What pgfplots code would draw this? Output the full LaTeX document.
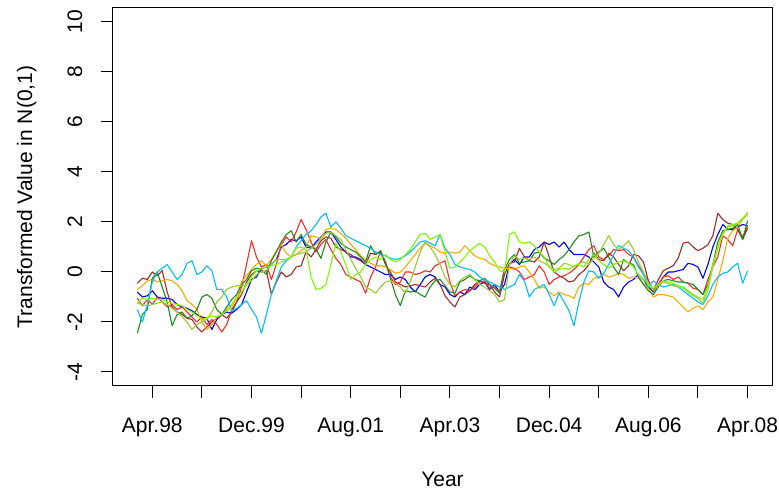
\documentclass[border=0pt]{standalone}
\usepackage{fontspec}
\setmainfont{Liberation Sans}
\usepackage{pgfplots}
\pgfplotsset{compat=1.18}
\definecolor{cblue}{HTML}{0000FF}
\definecolor{cred}{HTML}{FF2A2A}
\definecolor{cbrown}{HTML}{A52A2A}
\definecolor{corange}{HTML}{FFAA00}
\definecolor{cdkgreen}{HTML}{1E8B1E}
\definecolor{csky}{HTML}{00BFFF}
\definecolor{cyg}{HTML}{9ACD32}
\definecolor{cchart}{HTML}{7CFC00}
\begin{document}
\begin{tikzpicture}
\begin{axis}[
  scale only axis, width=659pt, height=378pt,
  xmin=-4.92, xmax=127.92, ymin=-4.56, ymax=10.56,
  axis line style={line width=1pt},
  every tick/.style={line width=1pt, black},
  major tick length=12pt, tick align=outside,
  xtick pos=bottom, ytick pos=left,
  xtick={3,13,23,33,43,53,63,73,83,93,103,113,123},
  xticklabels={Apr.98,,Dec.99,,Aug.01,,Apr.03,,Dec.04,,Aug.06,,Apr.08},
  ytick={-4,-2,0,2,4,6,8,10},
  yticklabels={-4,-2,0,2,4,6,8,10},
  every tick label/.append style={font=\fontsize{21}{25}\selectfont, inner sep=0pt},
  xticklabel style={anchor=base, yshift=-34pt},
  yticklabel style={rotate=90, anchor=base, yshift=19pt},
  every axis x label/.style={at={(axis description cs:0.5,-0.2672)}, anchor=base, inner sep=0pt, font=\fontsize{21}{25}\selectfont},
  every axis y label/.style={at={(axis description cs:-0.1229,0.5)}, rotate=90, anchor=base, inner sep=0pt, font=\fontsize{21}{25}\selectfont},
  xlabel={Year},
  ylabel={Transformed Value in N(0,1)},
  every axis plot/.append style={line width=1.1pt, line join=round},
]
\addplot[cblue] coordinates {(0,-0.8) (1,-1.0) (2,-0.95) (3,-0.75) (4,-1.0) (5,-1.05) (6,-1.05) (7,-1.1) (8,-1.3) (9,-1.4) (10,-1.45) (11,-1.55) (12,-1.7) (13,-1.8) (14,-1.85) (15,-2.3) (16,-1.9) (17,-1.7) (18,-1.6) (19,-1.65) (20,-1.5) (21,-1.3) (22,-0.8) (23,-0.3) (24,-0.2) (25,0.15) (26,0.2) (27,0.3) (28,0.5) (29,1.0) (30,1.1) (31,1.3) (32,1.25) (33,1.4) (34,1.0) (35,0.95) (36,1.2) (37,1.4) (38,1.6) (39,1.6) (40,1.3) (41,1.0) (42,0.8) (43,0.6) (44,0.6) (45,0.5) (46,0.3) (47,0.2) (48,0.1) (49,0.0) (50,-0.1) (51,-0.1) (52,-0.3) (53,-0.2) (54,-0.3) (55,-0.6) (56,-0.8) (57,-0.5) (58,-0.2) (59,-0.1) (60,-0.2) (61,-0.5) (62,-0.6) (63,-0.9) (64,-1.0) (65,-0.8) (66,-0.9) (67,-0.6) (68,-0.7) (69,-0.5) (70,-0.4) (71,-0.7) (72,-0.5) (73,-0.8) (74,-0.5) (75,0.3) (76,0.5) (77,0.3) (78,0.6) (79,0.6) (80,0.9) (81,1.0) (82,1.2) (83,1.1) (84,1.2) (85,1.0) (86,1.2) (87,0.9) (88,0.7) (89,0.7) (90,0.7) (91,0.6) (92,0.4) (93,0.2) (94,-0.4) (95,-0.6) (96,-0.7) (97,-1.0) (98,-0.6) (99,-0.4) (100,-0.3) (101,-0.1) (102,-0.3) (103,-0.6) (104,-0.8) (105,-0.5) (106,-0.2) (107,0.0) (108,0.0) (109,0.05) (110,0.1) (111,0.35) (112,0.3) (113,0.2) (114,-0.25) (115,0.3) (116,1.0) (117,1.5) (118,1.9) (119,1.7) (120,1.7) (121,1.8) (122,1.9) (123,1.85)};
\addplot[cred] coordinates {(0,-1.05) (1,-1.35) (2,-1.1) (3,-1.3) (4,-1.0) (5,-1.2) (6,-1.4) (7,-1.3) (8,-1.5) (9,-1.4) (10,-1.6) (11,-1.8) (12,-2.0) (13,-1.8) (14,-2.1) (15,-1.9) (16,-2.1) (17,-2.4) (18,-2.1) (19,-1.5) (20,-1.2) (21,-0.6) (22,0.3) (23,1.25) (24,0.6) (25,0.2) (26,0.3) (27,-0.3) (28,0.3) (29,1.1) (30,1.4) (31,1.2) (32,1.6) (33,2.1) (34,1.7) (35,1.2) (36,0.8) (37,1.1) (38,1.3) (39,0.9) (40,0.55) (41,0.3) (42,-0.1) (43,-0.2) (44,-0.3) (45,-0.4) (46,-0.85) (47,-0.2) (48,0.2) (49,0.85) (50,0.4) (51,-0.2) (52,-0.5) (53,-0.4) (54,0.0) (55,0.0) (56,-0.1) (57,-0.05) (58,0.05) (59,0.0) (60,0.25) (61,0.35) (62,0.45) (63,-0.4) (64,-0.95) (65,-0.8) (66,-0.7) (67,-0.75) (68,-0.6) (69,-0.4) (70,-0.35) (71,-0.65) (72,-0.6) (73,-0.8) (74,0.15) (75,0.2) (76,0.15) (77,0.0) (78,-0.3) (79,-0.2) (80,-0.1) (81,0.25) (82,0.0) (83,-0.5) (84,-0.3) (85,-0.2) (86,-0.15) (87,-0.05) (88,0.1) (89,0.3) (90,0.6) (91,0.9) (92,1.05) (93,0.6) (94,0.5) (95,0.65) (96,0.9) (97,0.85) (98,0.9) (99,0.7) (100,0.6) (101,0.25) (102,-0.05) (103,-0.35) (104,-0.75) (105,-0.5) (106,-0.2) (107,-0.15) (108,-0.3) (109,-0.2) (110,-0.4) (111,-0.45) (112,-0.65) (113,-0.7) (114,-0.9) (115,-0.3) (116,0.2) (117,0.6) (118,1.45) (119,1.3) (120,1.05) (121,1.7) (122,1.4) (123,1.85)};
\addplot[cbrown] coordinates {(0,-0.45) (1,-0.25) (2,-0.3) (3,0.0) (4,-0.15) (5,0.05) (6,-0.8) (7,-1.4) (8,-1.6) (9,-1.7) (10,-1.85) (11,-1.9) (12,-2.2) (13,-2.4) (14,-2.2) (15,-2.0) (16,-1.85) (17,-1.7) (18,-1.85) (19,-1.6) (20,-1.2) (21,-0.9) (22,-0.4) (23,-0.1) (24,0.05) (25,0.0) (26,0.05) (27,-0.9) (28,-0.4) (29,0.0) (30,-0.2) (31,-0.1) (32,0.2) (33,0.25) (34,0.8) (35,0.6) (36,0.9) (37,1.25) (38,1.4) (39,1.35) (40,1.0) (41,0.9) (42,0.8) (43,0.7) (44,0.55) (45,0.45) (46,0.3) (47,0.75) (48,0.7) (49,0.8) (50,0.3) (51,0.0) (52,-0.4) (53,-0.5) (54,-0.6) (55,-0.55) (56,-0.5) (57,-0.55) (58,-0.6) (59,-0.4) (60,-0.25) (61,-0.5) (62,-0.95) (63,-1.2) (64,-1.4) (65,-1.0) (66,-0.9) (67,-0.75) (68,-0.5) (69,-0.35) (70,-0.45) (71,-0.5) (72,-0.8) (73,-1.0) (74,-0.1) (75,0.35) (76,0.4) (77,0.95) (78,0.6) (79,0.45) (80,0.4) (81,0.6) (82,1.2) (83,0.6) (84,0.0) (85,-0.15) (86,-0.25) (87,-0.4) (88,-0.35) (89,-0.1) (90,0.05) (91,0.3) (92,0.75) (93,0.5) (94,0.45) (95,0.75) (96,0.6) (97,0.3) (98,0.05) (99,0.25) (100,0.7) (101,0.65) (102,0.4) (103,-0.35) (104,-0.75) (105,-0.3) (106,0.05) (107,0.15) (108,0.25) (109,0.55) (110,1.15) (111,1.2) (112,1.0) (113,0.85) (114,0.95) (115,1.1) (116,1.45) (117,2.35) (118,2.1) (119,1.95) (120,1.9) (121,1.7) (122,1.3) (123,1.75)};
\addplot[corange] coordinates {(0,-0.7) (1,-0.55) (2,-0.35) (3,-0.3) (4,-0.4) (5,-0.35) (6,-0.3) (7,-0.35) (8,-0.5) (9,-0.75) (10,-1.15) (11,-1.3) (12,-1.5) (13,-2.0) (14,-2.3) (15,-2.1) (16,-1.8) (17,-1.7) (18,-1.5) (19,-1.3) (20,-1.0) (21,-0.4) (22,-0.15) (23,0.1) (24,0.3) (25,0.45) (26,0.25) (27,0.5) (28,0.85) (29,1.1) (30,0.75) (31,0.6) (32,0.7) (33,0.85) (34,1.0) (35,1.45) (36,1.4) (37,1.35) (38,1.7) (39,1.75) (40,1.7) (41,1.55) (42,1.35) (43,1.1) (44,0.9) (45,0.65) (46,0.5) (47,0.35) (48,0.25) (49,0.25) (50,0.2) (51,0.1) (52,-0.05) (53,0.0) (54,0.2) (55,0.45) (56,0.7) (57,0.95) (58,1.15) (59,1.05) (60,0.95) (61,0.8) (62,0.75) (63,0.8) (64,0.75) (65,0.8) (66,1.05) (67,0.85) (68,0.65) (69,0.55) (70,0.5) (71,0.35) (72,0.25) (73,0.2) (74,0.15) (75,0.15) (76,0.1) (77,0.2) (78,0.25) (79,0.0) (80,-0.3) (81,-0.65) (82,-0.6) (83,-0.8) (84,-0.95) (85,-0.8) (86,-0.9) (87,-0.95) (88,-1.05) (89,-0.6) (90,-0.45) (91,-0.5) (92,-0.25) (93,-0.2) (94,-0.1) (95,-0.2) (96,-0.15) (97,-0.05) (98,-0.1) (99,-0.25) (100,-0.2) (101,-0.25) (102,-0.45) (103,-0.65) (104,-1.0) (105,-0.9) (106,-0.9) (107,-0.95) (108,-1.0) (109,-1.2) (110,-1.4) (111,-1.6) (112,-1.45) (113,-1.35) (114,-1.5) (115,-1.2) (116,-1.0) (117,-0.3) (118,0.45) (119,1.35) (120,1.65) (121,1.8) (122,2.1) (123,2.3)};
\addplot[cdkgreen] coordinates {(0,-2.45) (1,-1.7) (2,-1.5) (3,-0.25) (4,0.0) (5,-0.6) (6,-1.2) (7,-2.15) (8,-1.7) (9,-1.6) (10,-1.85) (11,-1.75) (12,-1.5) (13,-1.0) (14,-0.9) (15,-1.05) (16,-1.5) (17,-1.7) (18,-1.4) (19,-1.1) (20,-0.9) (21,-0.5) (22,-0.3) (23,0.05) (24,0.15) (25,0.1) (26,-0.1) (27,0.45) (28,0.8) (29,1.2) (30,1.5) (31,1.65) (32,1.2) (33,1.5) (34,1.1) (35,1.0) (36,0.9) (37,0.55) (38,1.2) (39,1.6) (40,1.4) (41,1.15) (42,1.0) (43,0.9) (44,0.8) (45,0.6) (46,0.4) (47,1.05) (48,0.7) (49,0.85) (50,0.4) (51,-0.25) (52,-0.9) (53,-1.35) (54,-0.75) (55,-0.8) (56,-0.75) (57,-0.9) (58,-1.0) (59,-0.6) (60,-0.35) (61,-0.3) (62,-0.55) (63,-0.8) (64,-0.85) (65,-0.4) (66,-0.3) (67,-0.15) (68,-0.3) (69,-0.35) (70,-0.25) (71,-0.5) (72,-0.65) (73,-0.85) (74,0.1) (75,0.5) (76,0.7) (77,0.35) (78,0.4) (79,0.45) (80,0.75) (81,0.8) (82,0.55) (83,0.45) (84,0.3) (85,0.5) (86,0.65) (87,0.9) (88,1.2) (89,1.45) (90,1.5) (91,1.6) (92,0.6) (93,0.8) (94,0.95) (95,0.6) (96,0.2) (97,-0.1) (98,0.5) (99,0.35) (100,0.3) (101,-0.2) (102,-0.5) (103,-0.75) (104,-0.9) (105,-0.6) (106,-0.35) (107,-0.3) (108,-0.35) (109,-0.4) (110,-0.4) (111,-0.45) (112,-0.5) (113,-0.7) (114,-0.9) (115,-0.5) (116,0.3) (117,1.2) (118,1.65) (119,1.7) (120,1.75) (121,1.9) (122,1.3) (123,2.05)};
\addplot[csky] coordinates {(0,-1.5) (1,-2.0) (2,-1.3) (3,-0.4) (4,0.0) (5,0.15) (6,0.3) (7,0.0) (8,-0.3) (9,-0.1) (10,0.35) (11,0.45) (12,-0.1) (13,0.0) (14,0.25) (15,0.05) (16,-0.7) (17,-0.7) (18,-1.0) (19,-1.55) (20,-1.45) (21,-1.3) (22,-1.15) (23,-1.5) (24,-1.8) (25,-2.45) (26,-1.7) (27,-0.9) (28,-0.35) (29,0.2) (30,0.45) (31,0.6) (32,1.0) (33,1.25) (34,1.5) (35,1.65) (36,1.9) (37,2.2) (38,2.35) (39,1.8) (40,2.0) (41,1.75) (42,1.45) (43,1.35) (44,1.25) (45,1.15) (46,1.05) (47,0.95) (48,0.8) (49,0.7) (50,0.65) (51,0.55) (52,0.5) (53,0.55) (54,0.65) (55,0.8) (56,1.0) (57,1.2) (58,1.25) (59,1.15) (60,1.05) (61,1.5) (62,0.95) (63,0.7) (64,0.3) (65,0.2) (66,0.15) (67,0.1) (68,0.0) (69,-0.2) (70,-0.3) (71,-0.4) (72,-0.5) (73,-0.6) (74,-0.7) (75,-0.6) (76,-0.5) (77,-0.1) (78,-0.35) (79,-1.0) (80,-0.7) (81,-0.6) (82,-0.5) (83,-0.9) (84,-1.35) (85,-0.85) (86,-1.2) (87,-1.55) (88,-2.15) (89,-1.2) (90,-0.4) (91,0.05) (92,0.0) (93,-0.25) (94,-0.05) (95,0.3) (96,0.7) (97,1.05) (98,0.95) (99,0.85) (100,0.6) (101,0.2) (102,-0.1) (103,-0.6) (104,-0.35) (105,-0.5) (106,-0.6) (107,-0.55) (108,-0.5) (109,-0.6) (110,-0.75) (111,-0.9) (112,-1.05) (113,-1.2) (114,-1.3) (115,-0.95) (116,-0.5) (117,-0.2) (118,-0.05) (119,0.0) (120,0.2) (121,0.35) (122,-0.45) (123,0.05)};
\addplot[cyg] coordinates {(0,-1.25) (1,-1.3) (2,-1.35) (3,-1.3) (4,-1.25) (5,-1.2) (6,-1.3) (7,-1.45) (8,-1.6) (9,-1.8) (10,-2.0) (11,-2.3) (12,-2.1) (13,-2.0) (14,-1.9) (15,-1.6) (16,-1.2) (17,-1.0) (18,-0.7) (19,-0.6) (20,-0.55) (21,-0.55) (22,-0.5) (23,-0.35) (24,-0.1) (25,0.0) (26,0.05) (27,0.3) (28,0.5) (29,0.5) (30,0.5) (31,0.6) (32,0.7) (33,0.75) (34,0.8) (35,0.95) (36,1.1) (37,1.3) (38,1.55) (39,1.6) (40,1.45) (41,1.3) (42,0.9) (43,0.5) (44,0.15) (45,-0.2) (46,-0.6) (47,-0.7) (48,-0.85) (49,-0.6) (50,-0.4) (51,-0.35) (52,-0.45) (53,-0.6) (54,-0.85) (55,-0.4) (56,0.2) (57,0.8) (58,1.2) (59,1.0) (60,0.7) (61,0.3) (62,-0.2) (63,-0.5) (64,-0.6) (65,-0.35) (66,-0.2) (67,-0.1) (68,-0.3) (69,-0.5) (70,-0.6) (71,-0.75) (72,-0.9) (73,-1.2) (74,-1.1) (75,0.3) (76,0.65) (77,0.5) (78,0.55) (79,0.5) (80,0.6) (81,0.45) (82,0.35) (83,0.25) (84,0.1) (85,0.15) (86,0.35) (87,0.3) (88,0.2) (89,0.35) (90,0.4) (91,0.3) (92,0.55) (93,0.75) (94,1.1) (95,1.45) (96,1.1) (97,0.9) (98,1.05) (99,1.25) (100,0.9) (101,0.4) (102,0.0) (103,-0.45) (104,-0.75) (105,-0.55) (106,-0.4) (107,-0.45) (108,-0.55) (109,-0.6) (110,-0.65) (111,-0.8) (112,-0.95) (113,-1.05) (114,-1.25) (115,-0.7) (116,0.2) (117,0.95) (118,1.55) (119,1.8) (120,1.85) (121,1.95) (122,2.15) (123,2.35)};
\addplot[cchart] coordinates {(0,-1.25) (1,-1.05) (2,-1.1) (3,-1.05) (4,-1.1) (5,-1.1) (6,-1.2) (7,-1.25) (8,-1.3) (9,-1.35) (10,-1.5) (11,-1.6) (12,-1.75) (13,-1.9) (14,-1.85) (15,-1.75) (16,-1.8) (17,-1.7) (18,-1.55) (19,-1.4) (20,-1.05) (21,-0.8) (22,-0.5) (23,-0.2) (24,0.05) (25,0.15) (26,0.2) (27,0.25) (28,0.3) (29,0.4) (30,0.5) (31,0.6) (32,0.95) (33,1.0) (34,0.9) (35,-0.2) (36,-0.7) (37,-0.65) (38,-0.5) (39,0.3) (40,1.15) (41,0.8) (42,0.3) (43,-0.3) (44,-0.1) (45,0.0) (46,0.3) (47,0.5) (48,0.6) (49,0.5) (50,0.7) (51,0.5) (52,0.4) (53,0.5) (54,0.7) (55,0.9) (56,1.2) (57,1.5) (58,1.55) (59,1.3) (60,1.4) (61,1.5) (62,0.8) (63,0.15) (64,0.2) (65,0.4) (66,0.6) (67,0.85) (68,1.0) (69,1.15) (70,1.0) (71,0.65) (72,0.4) (73,0.05) (74,0.0) (75,1.5) (76,1.6) (77,1.2) (78,1.15) (79,1.2) (80,1.05) (81,0.8) (82,0.6) (83,0.2) (84,0.0) (85,0.1) (86,0.15) (87,0.1) (88,0.25) (89,0.3) (90,0.2) (91,0.5) (92,0.7) (93,0.45) (94,0.3) (95,0.15) (96,0.3) (97,0.4) (98,0.45) (99,0.35) (100,0.2) (101,-0.1) (102,-0.3) (103,-0.5) (104,-0.65) (105,-0.5) (106,-0.35) (107,-0.4) (108,-0.45) (109,-0.55) (110,-0.6) (111,-0.75) (112,-0.9) (113,-1.0) (114,-1.1) (115,-0.6) (116,0.3) (117,1.0) (118,1.5) (119,1.85) (120,1.9) (121,1.95) (122,2.1) (123,2.4)};
\end{axis}
\path ([xshift=-113pt,yshift=-108pt]current axis.south west) rectangle ([xshift=7pt,yshift=8pt]current axis.north east);
\end{tikzpicture}
\end{document}
